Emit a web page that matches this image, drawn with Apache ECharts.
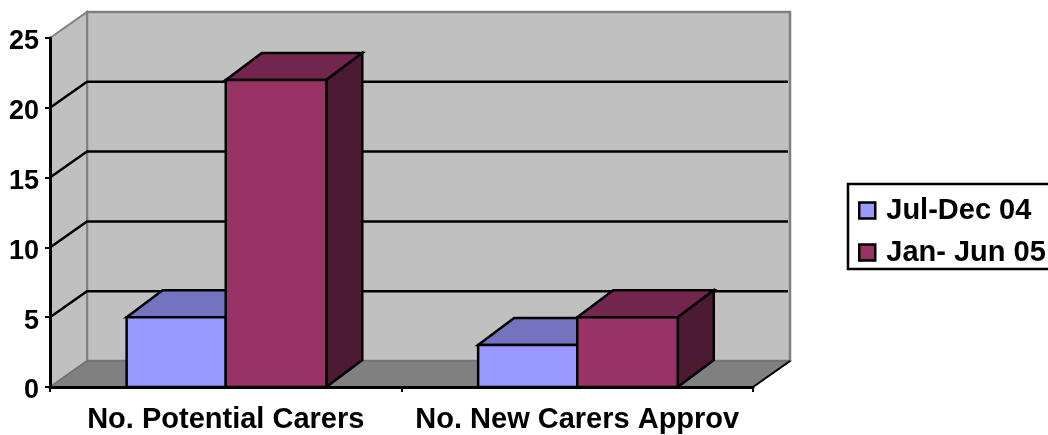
<!DOCTYPE html>
<html>
<head>
<meta charset="utf-8">
<style>
  html, body { margin: 0; padding: 0; background: #fff; }
  #chart { width: 1048px; height: 435px; }
</style>
<script src="https://cdn.jsdelivr.net/npm/echarts@6/dist/echarts.min.js"></script>
</head>
<body>
<div id="chart"></div>
<script>
const categories = ['No. Potential Carers', 'No. New Carers Approv'];
const julDec04 = [5, 3];
const janJun05 = [22, 5];
const yTicks = [0, 5, 10, 15, 20, 25];

// excel style 3d offset, in pixels
const DEPTH_X = 37;
const WALL_DEPTH_Y = -26;
const BAR_DEPTH_X = 36;
const BAR_DEPTH_Y = -27;
const FONT = '"Liberation Sans", Arial, sans-serif';
const LINE = 2.5;

function poly(points, fill, stroke, width) {
  return {
    type: 'polygon',
    shape: { points },
    style: { fill, stroke, lineWidth: width, lineJoin: 'miter' },
  };
}

function back(p) {
  return [p[0] + DEPTH_X, p[1] + WALL_DEPTH_Y];
}

function barBack(p) {
  return [p[0] + BAR_DEPTH_X, p[1] + BAR_DEPTH_Y];
}

function renderWalls(params) {
  const c = params.coordSys;
  const l = c.x, r = c.x + c.width, t = c.y, b = c.y + c.height;
  const gray = '#808080';
  return {
    type: 'group',
    children: [
      poly([back([l, t]), back([r, t]), back([r, b]), back([l, b])], '#C0C0C0', gray, 2.5),
      poly([[l, t], back([l, t]), back([l, b]), [l, b]], '#C0C0C0', gray, 2),
      poly([[l, b], back([l, b]), back([r, b]), [r, b]], '#808080', '#707070', 1.5),
      {
        type: 'line',
        shape: { x1: r, y1: b, x2: r + DEPTH_X, y2: b + WALL_DEPTH_Y },
        style: { stroke: '#000', lineWidth: 2 },
      },
    ],
  };
}

function renderGridline(params, api) {
  const value = api.value(1);
  if (value === 0 || value === 25) return null;
  const c = params.coordSys;
  const y = api.coord([0, value])[1];
  const l = [c.x, y];
  const bl = back(l);
  const br = back([c.x + c.width, y]);
  return {
    type: 'polyline',
    shape: { points: [l, bl, [br[0] - 2, br[1]]] },
    style: { fill: 'none', stroke: '#000', lineWidth: LINE },
  };
}

// share = one bar's width as a part of the category band
function makeBarRenderer(side, share, front, top, right) {
  return function (params, api) {
    const center = api.coord([api.value(0), 0]);
    const barW = api.size([1, 0])[0] * share;
    const x0 = center[0] + (side < 0 ? -barW : 0);
    const x1 = x0 + barW;
    const y0 = center[1];
    const y1 = api.coord([api.value(0), api.value(1)])[1];
    return {
      type: 'group',
      children: [
        poly([[x0, y1], barBack([x0, y1]), barBack([x1, y1]), [x1, y1]], top, '#000', LINE),
        poly([[x1, y1], barBack([x1, y1]), barBack([x1, y0]), [x1, y0]], right, '#000', LINE),
        poly([[x0, y1], [x1, y1], [x1, y0], [x0, y0]], front, '#000', LINE),
      ],
    };
  };
}

const chart = echarts.init(document.getElementById('chart'), null, { renderer: 'canvas' });

chart.setOption({
  animation: false,
  backgroundColor: '#fff',
  textStyle: { fontFamily: FONT },
  grid: { left: 50, right: 295, top: 38, bottom: 48 },
  xAxis: {
    type: 'category',
    data: categories,
    z: 5,
    axisLine: { lineStyle: { color: '#000', width: 3 } },
    axisTick: { show: true, alignWithLabel: false, length: 5, lineStyle: { color: '#000', width: 2 } },
    axisLabel: { color: '#000', fontSize: 29, fontWeight: 'bold', fontFamily: FONT, margin: 18, interval: 0 },
    splitLine: { show: false },
  },
  yAxis: {
    type: 'value',
    min: 0,
    max: 25,
    interval: 5,
    z: 5,
    axisLine: { show: true, lineStyle: { color: '#000', width: 3 } },
    axisTick: { show: true, length: 5, lineStyle: { color: '#000', width: 2 } },
    axisLabel: { color: '#000', fontSize: 27, fontWeight: 'bold', fontFamily: FONT, margin: 11, lineHeight: 8, verticalAlign: 'top' },
    splitLine: { show: false },
  },
  legend: {
    left: 848,
    top: 184,
    orient: 'vertical',
    padding: [12, 12, 2, 10],
    itemGap: 13,
    itemWidth: 16,
    itemHeight: 16,
    borderColor: '#000',
    borderWidth: 2.5,
    textStyle: { color: '#000', fontSize: 29, fontWeight: 'bold', fontFamily: FONT, padding: [0, 0, 0, 6] },
    data: [
      { name: 'Jul-Dec 04', icon: 'rect', itemStyle: { color: '#9999FF', borderColor: '#000', borderWidth: 2.5 } },
      { name: 'Jan- Jun 05', icon: 'rect', itemStyle: { color: '#993366', borderColor: '#000', borderWidth: 2.5 } },
    ],
  },
  series: [
    {
      name: 'walls',
      type: 'custom',
      clip: false,
      z: 1,
      silent: true,
      renderItem: renderWalls,
      data: [[0, 0]],
    },
    {
      name: 'gridlines',
      type: 'custom',
      clip: false,
      z: 2,
      silent: true,
      renderItem: renderGridline,
      data: yTicks.map(v => [0, v]),
    },
    {
      name: 'Jul-Dec 04',
      type: 'custom',
      clip: false,
      z: 3,
      itemStyle: { color: '#9999FF' },
      renderItem: makeBarRenderer(-1, 0.282, '#9999FF', '#7373BF', '#4D4D80'),
      data: julDec04.map((v, i) => [i, v]),
    },
    {
      name: 'Jan- Jun 05',
      type: 'custom',
      clip: false,
      z: 4,
      itemStyle: { color: '#993366' },
      renderItem: makeBarRenderer(1, 0.286, '#993366', '#73264D', '#4D1A33'),
      data: janJun05.map((v, i) => [i, v]),
    },
  ],
});
</script>
</body>
</html>
